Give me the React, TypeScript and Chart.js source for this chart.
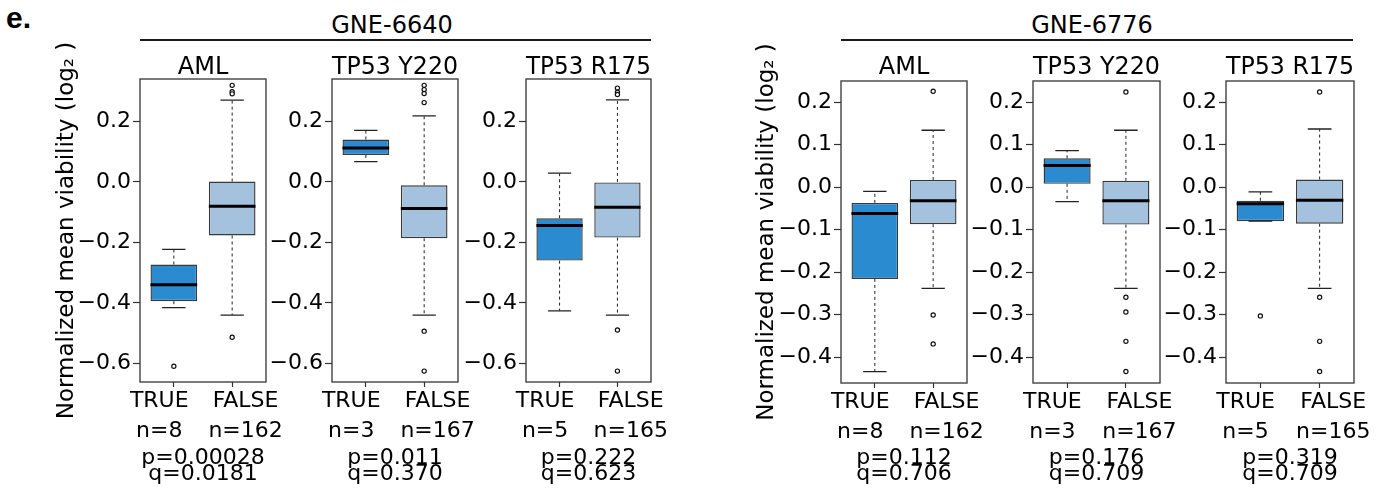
import React, { useEffect, useRef } from 'react';
import { Chart, registerables } from 'chart.js';

Chart.register(...registerables);

const FONT = "'DejaVu Sans', 'Liberation Sans', Arial, sans-serif";
const FONT_BOLD_LABEL = "'Liberation Sans', Arial, Helvetica, sans-serif";

// ---------------- data ----------------
const panelTitles = ['AML', 'TP53 Y220', 'TP53 R175'];
const groupLabels = ['TRUE', 'FALSE'];
const compoundNames = ['GNE-6640', 'GNE-6776'];
const yAxisTitle = 'Normalized mean viability (log\u2082 )';

// GNE-6640 : one [TRUE, FALSE] pair per panel
const g6640WhiskerLow = [[-0.415, -0.44], [0.067, -0.44], [-0.426, -0.44]];
const g6640Q1 = [[-0.394, -0.177], [0.089, -0.186], [-0.26, -0.184]];
const g6640Median = [[-0.34, -0.08], [0.112, -0.088], [-0.144, -0.084]];
const g6640Q3 = [[-0.273, 0.001], [0.14, -0.011], [-0.12, 0.0]];
const g6640WhiskerHigh = [[-0.223, 0.27], [0.17, 0.218], [0.029, 0.271]];
const g6640Outliers = [
  [[-0.609], [0.319, 0.298, 0.291, -0.513]],
  [[], [0.319, 0.305, 0.292, 0.262, -0.493, -0.625]],
  [[], [0.31, 0.296, 0.289, -0.489, -0.625]],
];
const g6640N = [[8, 162], [3, 167], [5, 165]];
const g6640P = ['0.00028', '0.011', '0.222'];
const g6640Q = ['0.0181', '0.370', '0.623'];
const g6640YTicks = [-0.6, -0.4, -0.2, 0.0, 0.2];
const g6640YRange = [-0.661, 0.34];

// GNE-6776 : one [TRUE, FALSE] pair per panel
const g6776WhiskerLow = [[-0.434, -0.238], [-0.034, -0.238], [-0.08, -0.238]];
const g6776Q1 = [[-0.216, -0.087], [0.008, -0.088], [-0.08, -0.086]];
const g6776Median = [[-0.062, -0.032], [0.051, -0.032], [-0.039, -0.031]];
const g6776Q3 = [[-0.037, 0.017], [0.068, 0.015], [-0.032, 0.018]];
const g6776WhiskerHigh = [[-0.01, 0.134], [0.086, 0.134], [-0.011, 0.137]];
const g6776Outliers = [
  [[], [0.226, -0.301, -0.369]],
  [[], [0.224, -0.259, -0.294, -0.363, -0.434]],
  [[-0.303], [0.224, -0.259, -0.363, -0.434]],
];
const g6776N = [[8, 162], [3, 167], [5, 165]];
const g6776P = ['0.112', '0.176', '0.319'];
const g6776Q = ['0.706', '0.709', '0.709'];
const g6776YTicks = [-0.4, -0.3, -0.2, -0.1, 0.0, 0.1, 0.2];
const g6776YRange = [-0.461, 0.25];

// ---------------- layout / style ----------------
const boxPositions = [1, 2];
const labelPositions = [0.75, 2.23];
const X_RANGE = [0.42, 2.58];
const BOX_HALF = 0.4;
const CAP_HALF = 0.2;
const BOX_COLORS = ['#2a8bd0', '#a4c2de'];
const INK = '#222';

const CANVAS_TOP = 40;
const CANVAS_H = 452;
const PAD_R = 40;

const GROUP_LAYOUT = [
  {
    areaX: [[140, 266], [332, 458], [526, 651]],
    top: 79, bottom: 382, titleY: 68, yTitleX: 67,
    headerCenter: 392, headerLine: [140, 651],
  },
  {
    areaX: [[841, 967], [1033, 1160], [1226, 1354]],
    top: 81, bottom: 383, titleY: 68, yTitleX: 767,
    headerCenter: 1092, headerLine: [841, 1353],
  },
];

const framePlugin = {
  id: 'frame',
  afterDatasetsDraw(chart: any) {
    const { ctx, chartArea } = chart;
    ctx.save();
    ctx.strokeStyle = '#333';
    ctx.lineWidth = 1.3;
    ctx.strokeRect(chartArea.left, chartArea.top, chartArea.right - chartArea.left, chartArea.bottom - chartArea.top);
    ctx.restore();
  },
};

const fmtTick = (v: number) => (v < -1e-9 ? '\u2212' : '') + Math.abs(v).toFixed(1);

type PanelSpec = {
  title: string;
  lo: number[]; q1: number[]; med: number[]; q3: number[]; hi: number[];
  out: number[][]; n: number[]; p: string; q: string;
  yTicks: number[]; yRange: number[];
  showYTitle: boolean;
  canvasLeft: number; canvasW: number; yW: number;
  topH: number; bottomH: number; titlePad: number; yTitlePad: number;
};

function buildConfig(s: PanelSpec): any {
  const boxes = boxPositions.map((x, i) => ({ x, y: [s.q1[i], s.q3[i]] }));
  const whiskers: any[] = [];
  const caps: any[] = [];
  const medians: any[] = [];
  boxPositions.forEach((x, i) => {
    whiskers.push({ x, y: s.q3[i] }, { x, y: s.hi[i] }, { x, y: null }, { x, y: s.q1[i] }, { x, y: s.lo[i] }, { x, y: null });
    caps.push(
      { x: x - CAP_HALF, y: s.hi[i] }, { x: x + CAP_HALF, y: s.hi[i] }, { x, y: null },
      { x: x - CAP_HALF, y: s.lo[i] }, { x: x + CAP_HALF, y: s.lo[i] }, { x, y: null },
    );
    medians.push({ x: x - BOX_HALF, y: s.med[i] }, { x: x + BOX_HALF, y: s.med[i] }, { x, y: null });
  });
  const outliers = s.out.flatMap((vals, i) => vals.map((y) => ({ x: boxPositions[i], y })));

  return {
    type: 'bar',
    data: {
      datasets: [
        {
          type: 'bar', data: boxes, xAxisID: 'x', yAxisID: 'y',
          backgroundColor: BOX_COLORS, borderColor: '#3a3a3a', borderWidth: 1.4, borderSkipped: false,
          barPercentage: 1, categoryPercentage: 0.8, order: 5,
        },
        {
          type: 'line', data: whiskers, xAxisID: 'x', yAxisID: 'y',
          borderColor: INK, borderWidth: 1, borderDash: [3, 3], pointRadius: 0, spanGaps: false, fill: false, order: 4,
        },
        {
          type: 'line', data: caps, xAxisID: 'x', yAxisID: 'y',
          borderColor: INK, borderWidth: 1.3, pointRadius: 0, spanGaps: false, fill: false, order: 3,
        },
        {
          type: 'line', data: medians, xAxisID: 'x', yAxisID: 'y',
          borderColor: '#000', borderWidth: 3, pointRadius: 0, spanGaps: false, fill: false, order: 2,
        },
        {
          type: 'scatter', data: outliers, xAxisID: 'x', yAxisID: 'y',
          pointRadius: 2.1, pointBorderWidth: 1.2, borderColor: '#111', backgroundColor: '#fff', order: 1,
        },
      ],
    },
    options: {
      animation: false,
      responsive: false,
      devicePixelRatio: 1,
      layout: { padding: { left: 0, right: PAD_R, top: 0, bottom: 0 }, autoPadding: false },
      plugins: { legend: { display: false }, tooltip: { enabled: false }, title: { display: false } },
      events: [],
      scales: {
        x: {
          type: 'linear', position: 'bottom', weight: 0, min: X_RANGE[0], max: X_RANGE[1], offset: false,
          afterBuildTicks: (sc: any) => { sc.ticks = boxPositions.map((v) => ({ value: v })); },
          ticks: { display: false, autoSkip: false },
          grid: { display: true, drawOnChartArea: false, drawTicks: true, tickLength: 5, offset: false, tickColor: '#333', tickWidth: 1.2 },
          border: { display: false },
          afterFit: (sc: any) => { sc.height = 5; sc.paddingLeft = 0; sc.paddingRight = 0; },
        },
        xl: {
          type: 'linear', position: 'bottom', weight: 1, min: X_RANGE[0], max: X_RANGE[1], offset: false,
          afterBuildTicks: (sc: any) => { sc.ticks = labelPositions.map((v) => ({ value: v })); },
          ticks: {
            autoSkip: false, maxRotation: 0, minRotation: 0, padding: -1, color: '#000',
            font: { family: FONT, size: 22, lineHeight: 1.364 },
            callback: (v: number) => {
              const i = labelPositions.indexOf(v);
              return i >= 0 ? [groupLabels[i], 'n=' + s.n[i]] : '';
            },
          },
          grid: { display: false, drawTicks: false, offset: false },
          border: { display: false },
          title: {
            display: true, text: ['p=' + s.p, 'q=' + s.q], color: '#000',
            font: { family: FONT, size: 22, lineHeight: 0.75 }, padding: { top: 0, bottom: 9.3 },
          },
          afterFit: (sc: any) => { sc.height = s.bottomH - 5; sc.paddingLeft = 0; sc.paddingRight = 0; },
        },
        xTop: {
          type: 'linear', position: 'top', min: X_RANGE[0], max: X_RANGE[1], offset: false,
          ticks: { display: false },
          grid: { display: false, drawTicks: false },
          border: { display: false },
          title: {
            display: true, text: s.title, color: '#000',
            font: { family: FONT, size: 24, lineHeight: 1.2 }, padding: { top: s.titlePad, bottom: 0 },
          },
          afterFit: (sc: any) => { sc.height = s.topH; sc.paddingLeft = 0; sc.paddingRight = 0; },
        },
        y: {
          type: 'linear', position: 'left', min: s.yRange[0], max: s.yRange[1],
          afterBuildTicks: (sc: any) => { sc.ticks = s.yTicks.map((v) => ({ value: v })); },
          ticks: { autoSkip: false, padding: 2, color: '#000', font: { family: FONT, size: 22 }, callback: (v: number) => fmtTick(v) },
          grid: { display: true, drawOnChartArea: false, drawTicks: true, tickLength: 7, tickColor: '#333', tickWidth: 1.2 },
          border: { display: false },
          title: {
            display: s.showYTitle, text: yAxisTitle, color: '#000',
            font: { family: FONT, size: 23, lineHeight: 1.2 }, padding: { top: s.yTitlePad, bottom: 0 },
          },
          afterFit: (sc: any) => { sc.width = s.yW; sc.paddingTop = 0; sc.paddingBottom = 0; },
        },
      },
    },
    plugins: [framePlugin],
  };
}

function BoxPanel({ spec }: { spec: PanelSpec }) {
  const ref = useRef<HTMLCanvasElement | null>(null);
  useEffect(() => {
    if (!ref.current) return;
    const chart = new Chart(ref.current, buildConfig(spec));
    return () => chart.destroy();
  }, [spec]);
  return (
    <canvas
      ref={ref}
      width={spec.canvasW}
      height={CANVAS_H}
      style={{ position: 'absolute', left: spec.canvasLeft, top: CANVAS_TOP, width: spec.canvasW, height: CANVAS_H }}
    />
  );
}

const groupsData = [
  {
    name: compoundNames[0], lo: g6640WhiskerLow, q1: g6640Q1, med: g6640Median, q3: g6640Q3, hi: g6640WhiskerHigh,
    out: g6640Outliers, n: g6640N, p: g6640P, q: g6640Q, yTicks: g6640YTicks, yRange: g6640YRange,
  },
  {
    name: compoundNames[1], lo: g6776WhiskerLow, q1: g6776Q1, med: g6776Median, q3: g6776Q3, hi: g6776WhiskerHigh,
    out: g6776Outliers, n: g6776N, p: g6776P, q: g6776Q, yTicks: g6776YTicks, yRange: g6776YRange,
  },
];

const allSpecs: PanelSpec[][] = groupsData.map((g, gi) => {
  const L = GROUP_LAYOUT[gi];
  return panelTitles.map((title, pi) => {
    const [aL, aR] = L.areaX[pi];
    const first = pi === 0;
    const yW = first ? aL - (L.yTitleX - 27) : 75;
    const canvasLeft = aL - yW;
    return {
      title,
      lo: g.lo[pi], q1: g.q1[pi], med: g.med[pi], q3: g.q3[pi], hi: g.hi[pi],
      out: g.out[pi], n: g.n[pi], p: g.p[pi], q: g.q[pi],
      yTicks: g.yTicks, yRange: g.yRange,
      showYTitle: first,
      canvasLeft, canvasW: yW + (aR - aL) + PAD_R, yW,
      topH: L.top - CANVAS_TOP,
      bottomH: CANVAS_TOP + CANVAS_H - L.bottom,
      titlePad: L.titleY - CANVAS_TOP - 14.4,
      yTitlePad: L.yTitleX - canvasLeft - 13.8,
    };
  });
});

export default function App() {
  return (
    <div
      style={{
        position: 'absolute', left: 0, top: 0, width: 1388, height: 492, background: '#fff',
        overflow: 'hidden', fontFamily: FONT, color: '#000',
      }}
    >
      <div style={{ position: 'absolute', left: 6, top: 3, fontSize: 30, lineHeight: '30px', fontWeight: 'bold', fontFamily: FONT_BOLD_LABEL }}>e.</div>
      {groupsData.map((g, gi) => {
        const L = GROUP_LAYOUT[gi];
        return (
          <React.Fragment key={g.name}>
            <div
              style={{
                position: 'absolute', left: L.headerCenter - 150, width: 300, top: 10, fontSize: 24,
                lineHeight: '30px', textAlign: 'center',
              }}
            >
              {g.name}
            </div>
            <div
              style={{
                position: 'absolute', left: L.headerLine[0], width: L.headerLine[1] - L.headerLine[0], top: 38.5,
                height: 2, background: '#1a1a1a',
              }}
            />
            {allSpecs[gi].map((spec, pi) => (
              <BoxPanel key={pi} spec={spec} />
            ))}
          </React.Fragment>
        );
      })}
    </div>
  );
}
